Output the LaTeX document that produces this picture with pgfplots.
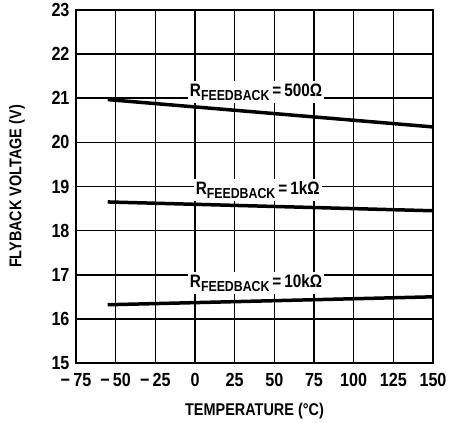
\documentclass[border=0pt]{standalone}
\usepackage{fontspec}
\setmainfont{Liberation Sans}[FakeStretch=0.85]
\usepackage{pgfplots}
\pgfplotsset{compat=1.18}
\newcommand{\rf}[1]{{\fontsize{18}{18}\selectfont R\raisebox{-4.5pt}{\fontsize{14.5}{14}\selectfont FEEDBACK}\,=\,#1}}
\begin{document}
\begin{tikzpicture}[x=1pt,y=1pt]
\path[use as bounding box] (-76,-60) rectangle (380,363);
\begin{axis}[at={(0,0)}, anchor=south west, scale only axis,
  width=357pt, height=353pt,
  xmin=-75, xmax=150, ymin=15, ymax=23,
  xtick={-75,-50,-25,0,25,50,75,100,125,150},
  xticklabels={−\,75,−\,50,−\,25,0,25,50,75,100,125,150},
  ytick={15,16,17,18,19,20,21,22,23},
  grid=major, major grid style={black, line width=1.6pt},
  axis line style={line width=2.4pt}, tick style={draw=none},
  font=\fontsize{17}{19}\selectfont\bfseries,
  tick label style={font=\fontsize{19}{21}\selectfont\bfseries},
  xticklabel style={yshift=-7pt},
  yticklabel style={xshift=-3pt},
  /pgf/number format/assume math mode=true,
  xlabel={TEMPERATURE (°C)}, ylabel={FLYBACK VOLTAGE (V)},
  xlabel style={at={(axis description cs:0.5,-0.135)}, anchor=center},
  ylabel style={at={(axis description cs:-0.165,0.5)}, anchor=center},
  clip=false]
\addplot[black, line width=3.5pt] coordinates {(-55,20.97) (150,20.35)};
\addplot[black, line width=3.5pt] coordinates {(-55,18.65) (150,18.45)};
\addplot[black, line width=3.5pt] coordinates {(-55,16.32) (150,16.50)};
\node[fill=white, inner sep=2pt] at (axis cs:38.5,21.14) {\rf{500Ω}};
\node[fill=white, inner sep=2pt] at (axis cs:39.5,18.92) {\rf{1kΩ}};
\node[fill=white, inner sep=2pt] at (axis cs:38.5,16.81) {\rf{10kΩ}};
\end{axis}
\end{tikzpicture}
\end{document}
